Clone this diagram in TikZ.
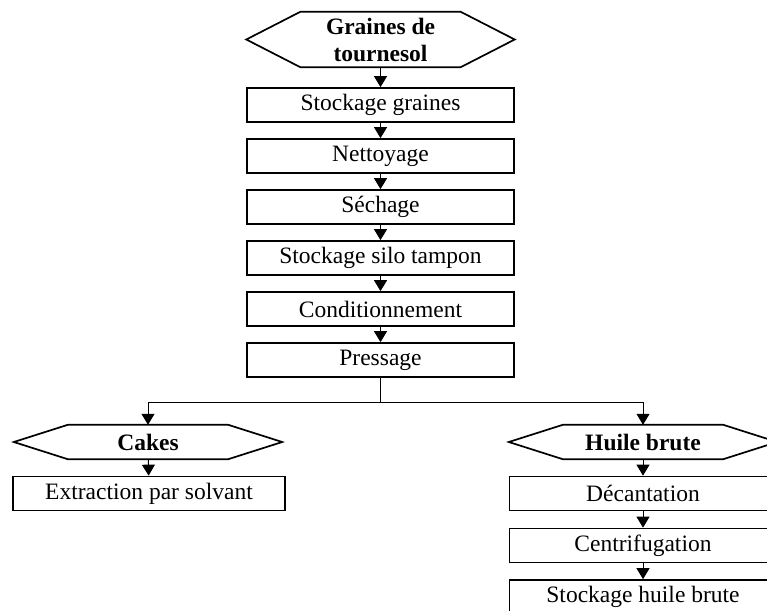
\documentclass[tikz,border=0pt]{standalone}
\usepackage{fontspec}
\setmainfont{Liberation Serif}
\usetikzlibrary{arrows.meta}
\begin{document}
\begin{tikzpicture}[x=1pt,y=-1pt,
etape/.style={draw,line width=1.7pt,minimum width=267pt,minimum height=34pt,inner sep=0pt,font=\fontsize{23.5}{27}\selectfont},
produit/.style={minimum width=160pt,minimum height=34pt,inner sep=0pt,align=center,font=\fontsize{23.5}{27}\selectfont\bfseries},
fleche/.style={line width=1pt,-{Triangle[length=11pt,width=13pt]}}]
\clip (0,0) rectangle (767,610);
\node[produit,minimum height=55pt] (graines) at (380.5,39.5) {Graines de\\tournesol};
\node[etape] (stock) at (380.5,105) {Stockage graines};
\node[etape] (nett) at (380.5,156) {Nettoyage};
\node[etape] (sech) at (380.5,207) {Séchage};
\node[etape] (silo) at (380.5,258) {Stockage silo tampon};
\node[etape] (cond) at (380.5,309) {Conditionnement};
\node[etape] (press) at (380.5,360) {Pressage};
\node[produit] (cakes) at (148,442) {Cakes};
\node[etape,minimum width=272pt] (extr) at (149,493.5) {Extraction par solvant};
\node[produit] (huile) at (643,442) {Huile brute};
\node[etape] (decant) at (643,493.5) {Décantation};
\node[etape] (centri) at (643,545.5) {Centrifugation};
\node[etape] (shuile) at (643,597) {Stockage huile brute};

\foreach \n in {graines,cakes,huile}
\draw[line width=1.7pt] (\n.north west) -- (\n.north east) -- ([xshift=54pt]\n.east) -- (\n.south east) -- (\n.south west) -- ([xshift=-54pt]\n.west) -- cycle;

\foreach \a/\b in {graines/stock,stock/nett,nett/sech,sech/silo,silo/cond,cond/press,cakes/extr,huile/decant,decant/centri,centri/shuile}
\draw[fleche] (\a) -- (\b);
\draw[line width=1pt] (press.south) -- ++(0,25) coordinate (split);
\draw[fleche] (split) -| (cakes.north);
\draw[fleche] (split) -| (huile.north);
\end{tikzpicture}
\end{document}
